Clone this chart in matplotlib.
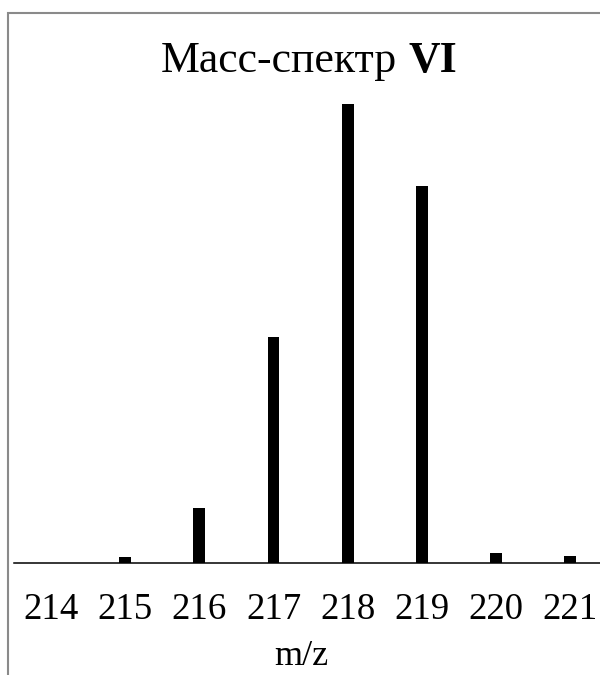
import matplotlib
matplotlib.use("Agg")
import matplotlib.pyplot as plt
from matplotlib.patches import Rectangle

# Data
mz = [214, 215, 216, 217, 218, 219, 220, 221]
intensity = [0.0, 1.4, 11.9, 49.3, 100.0, 82.1, 2.2, 1.5]
tick_labels = [str(v) for v in mz]
title_regular = "Масс-спектр"
title_bold = "VI"
xlabel = "m/z"

W, H = 600, 675
DPI = 100
plt.rcParams['font.family'] = ['Liberation Serif', 'DejaVu Serif']

fig = plt.figure(figsize=(W / DPI, H / DPI), dpi=DPI)
fig.patch.set_facecolor('white')

# chart-area border (left and top visible)
border = Rectangle((7.5 / W, -0.05), 1.2, (H - 12.5) / H + 0.05,
                   transform=fig.transFigure, fill=False,
                   edgecolor='#8a8a8a', linewidth=1.5, clip_on=False)
fig.add_artist(border)

ax_left = 14 / W
ax_bottom = (H - 563) / H
ax_top = (H - 104) / H
ax = fig.add_axes([ax_left, ax_bottom, 1.0 - ax_left + 0.002, ax_top - ax_bottom])
ax.set_facecolor('none')

ax.bar(mz, intensity, width=0.16, color='black')
ax.set_xlim(213.5, 221.42)
ax.set_ylim(0, 100)

for s in ['top', 'right', 'left']:
    ax.spines[s].set_visible(False)
ax.spines['bottom'].set_color('black')
ax.spines['bottom'].set_linewidth(1.1)
ax.set_yticks([])
ax.set_xticks(mz)
ax.set_xticklabels(tick_labels, fontsize=26.5)
ax.tick_params(axis='x', length=0, pad=21)

fig.text(301 / W, (H - 665) / H, xlabel, fontsize=26, ha='center', va='baseline')

# Title with bold part
ty = (H - 72) / H
fs_title = 31.5
t1 = fig.text(0, ty, title_regular, fontsize=fs_title, ha='left', va='baseline')
t2 = fig.text(0, ty, title_bold, fontsize=fs_title, fontweight='bold', ha='left', va='baseline')
fig.canvas.draw()
r = fig.canvas.get_renderer()
w1 = t1.get_window_extent(r).width
w2 = t2.get_window_extent(r).width
gap = fs_title * DPI / 72 * 0.25
total = w1 + gap + w2
x0 = 309 - total / 2
t1.set_x(x0 / W)
t2.set_x((x0 + w1 + gap) / W)

fig.savefig('out.png', dpi=DPI, facecolor='white')
